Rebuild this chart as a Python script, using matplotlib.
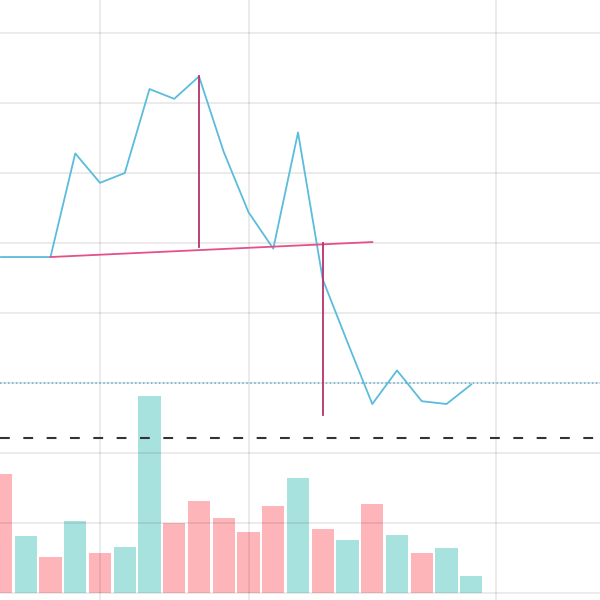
import numpy as np
import matplotlib
matplotlib.use("Agg")
import matplotlib.pyplot as plt

# price series (one point per bar)
idx    = np.arange(20)
price  = [64.0, 64.0, 64.0, 71.4, 69.3, 70.0, 76.0, 75.3, 76.9, 71.5,
          67.2, 64.6, 72.9, 62.4, 57.9, 53.5, 55.9, 53.7, 53.5, 54.9]
volume = [1190, 570, 360, 720, 400, 460, 1970, 700, 920, 750,
          610, 870, 1150, 640, 530, 890, 580, 400, 450, 170]
up     = [0, 1, 0, 1, 0, 1, 1, 0, 0, 0, 0, 0, 1, 0, 1, 0, 1, 0, 1, 1]

# pattern overlay
neck_x   = [2, 15]
neck_y   = [64.0, 65.07]
head_x   = 8
head_y   = [76.9, 64.7]
break_x  = 13
break_y  = [65.0, 52.7]
target   = 55.0
stop     = 51.1

line_col = "#5bbcdc"
teal     = "#a8e2df"
pink     = "#fdb5ba"
gridc    = (0, 0, 0, 0.085)

ylo, yhi = 39.5, 82.36
vlo, vhi = -70, 5930

fig = plt.figure(figsize=(6, 6), dpi=100)
ax  = fig.add_axes([0, 0, 1, 1])
ax2 = ax.twinx()
ax.set_zorder(ax2.get_zorder() + 1)
ax.patch.set_visible(False)

cols = [teal if u else pink for u in up]
ax2.bar(idx, volume, width=0.9, color=cols, zorder=2)
ax2.set_ylim(vlo, vhi)
ax2.set_xlim(-0.04, 24.2)
ax2.axis("off")

# grid sits on top of the volume bars
for gx in [4, 10, 20]:
    ax2.axvline(gx, color=gridc, lw=1.3, zorder=3)
for gy in np.arange(40, 81, 5):
    frac = (gy - ylo) / (yhi - ylo)
    ax2.axhline(vlo + frac * (vhi - vlo), color=gridc, lw=1.3, zorder=3)

ax.plot(idx, price, color=line_col, lw=1.3, zorder=3)
ax.plot(neck_x, neck_y, color="#e5508a", lw=1.3, zorder=4)
ax.plot([head_x, head_x], head_y, color="#b8326e", lw=1.3, zorder=4)
ax.plot([break_x, break_x], break_y, color="#b8326e", lw=1.3, zorder=4)
ax.axhline(target, color="#5aaed0", lw=1.1, ls=(0, (1, 1.6)), zorder=3)
ax.axhline(stop, color="#333333", lw=1.5, ls=(0, (4.7, 6.5)), zorder=3)

ax.set_xlim(-0.04, 24.2)
ax.set_ylim(ylo, yhi)
ax.set_xticks([])
ax.set_yticks([])
for s in ax.spines.values():
    s.set_visible(False)

fig.savefig("out.png", dpi=100)
